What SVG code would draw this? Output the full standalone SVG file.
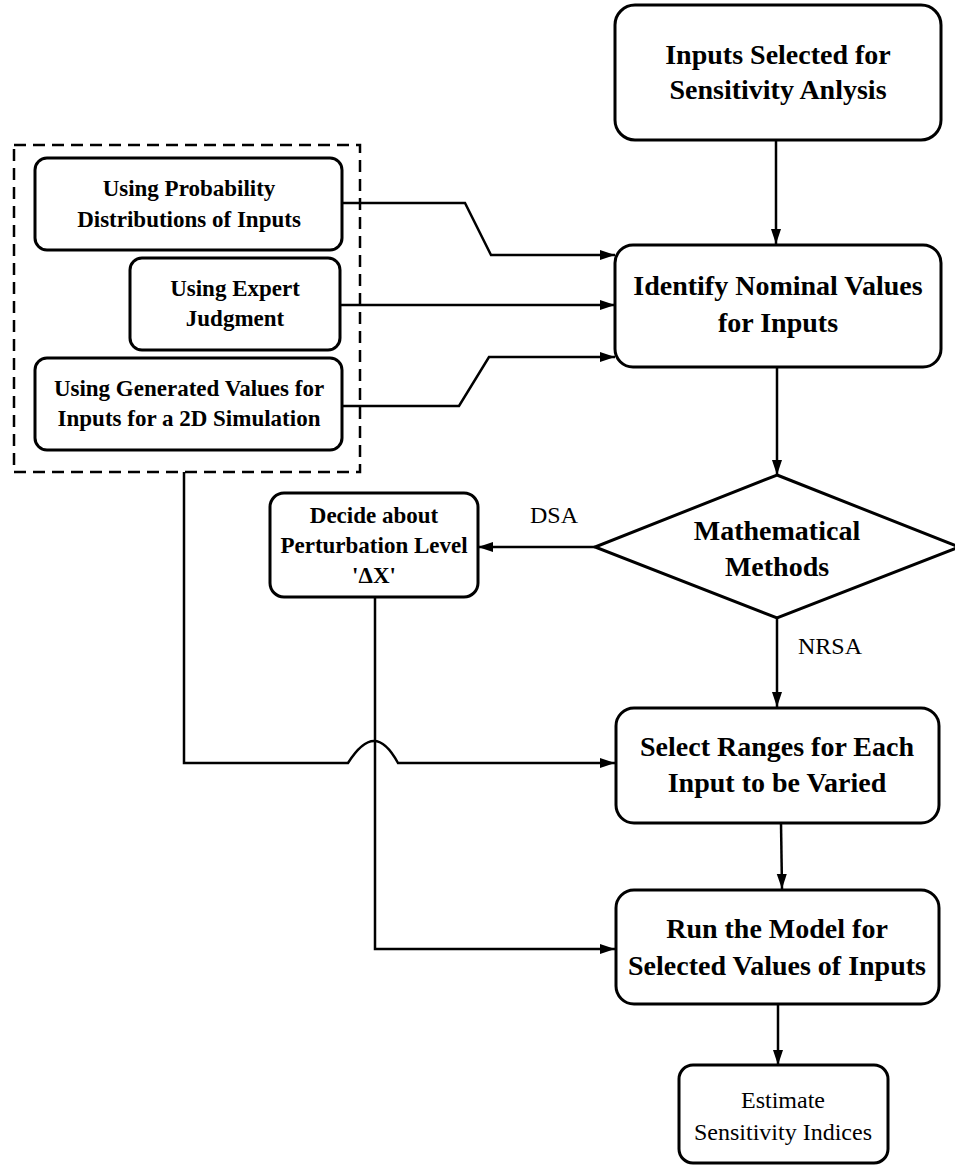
<svg xmlns="http://www.w3.org/2000/svg" width="955" height="1168" viewBox="0 0 955 1168">
  <style>
    .box { fill: #fff; stroke: #000; stroke-width: 3; }
    .dash { fill: none; stroke: #000; stroke-width: 2.5; stroke-dasharray: 12 7; }
    .edge { fill: none; stroke: #000; stroke-width: 2.5; }
    .big { font-family: "Liberation Serif", "Times New Roman", serif; font-size: 28px; font-weight: bold; text-anchor: middle; fill: #000; }
    .small { font-family: "Liberation Serif", "Times New Roman", serif; font-size: 23px; font-weight: bold; text-anchor: middle; fill: #000; }
    .plain { font-family: "Liberation Serif", "Times New Roman", serif; font-size: 24px; text-anchor: middle; fill: #000; }
  </style>
  <defs>
    <marker id="arrow" markerUnits="userSpaceOnUse" markerWidth="16" markerHeight="11" refX="15" refY="5" orient="auto">
      <path d="M0,0 L15,5 L0,10 z" fill="#000"/>
    </marker>
  </defs>

  <rect width="955" height="1168" fill="#fff"/>

  <!-- grouping frame around the three sources of nominal values -->
  <rect class="dash" x="14" y="145" width="346" height="327"/>

  <g id="connectors">
    <line class="edge" x1="776" y1="140" x2="776" y2="244" marker-end="url(#arrow)"/>
    <polyline class="edge" points="342,203 465,203 491,255 615,255" marker-end="url(#arrow)"/>
    <line class="edge" x1="340" y1="305" x2="615" y2="305" marker-end="url(#arrow)"/>
    <polyline class="edge" points="342,406 459,406 489,357 615,357" marker-end="url(#arrow)"/>
    <line class="edge" x1="777" y1="367" x2="777" y2="475" marker-end="url(#arrow)"/>
    <line class="edge" x1="595" y1="547" x2="478" y2="547" marker-end="url(#arrow)"/>
    <line class="edge" x1="777" y1="618" x2="777" y2="707" marker-end="url(#arrow)"/>
    <!-- line from the frame hops over the perturbation line -->
    <path class="edge" d="M184,472 V763 H348 Q362,741 374,741 Q386,741 398,763 H615" marker-end="url(#arrow)"/>
    <polyline class="edge" points="375,597 375,949 615,949" marker-end="url(#arrow)"/>
    <line class="edge" x1="781" y1="823" x2="782" y2="889" marker-end="url(#arrow)"/>
    <line class="edge" x1="778" y1="1004" x2="778" y2="1065" marker-end="url(#arrow)"/>
    <text class="plain" x="554" y="523">DSA</text>
    <text class="plain" x="830" y="654">NRSA</text>
  </g>

  <g id="inputs-selected">
    <rect class="box" x="615" y="5" width="326" height="135" rx="20"/>
    <text class="big" x="778" y="64">Inputs Selected for</text>
    <text class="big" x="778" y="99">Sensitivity Anlysis</text>
  </g>

  <g id="probability-distributions">
    <rect class="box" x="35" y="158" width="307" height="92" rx="12"/>
    <text class="small" x="189" y="196">Using Probability</text>
    <text class="small" x="189" y="227">Distributions of Inputs</text>
  </g>

  <g id="expert-judgment">
    <rect class="box" x="130" y="258" width="210" height="92" rx="12"/>
    <text class="small" x="235" y="296">Using Expert</text>
    <text class="small" x="235" y="326">Judgment</text>
  </g>

  <g id="generated-values">
    <rect class="box" x="35" y="358" width="307" height="92" rx="12"/>
    <text class="small" x="189" y="396">Using Generated Values for</text>
    <text class="small" x="189" y="426">Inputs for a 2D Simulation</text>
  </g>

  <g id="identify-nominal">
    <rect class="box" x="615" y="245" width="326" height="122" rx="18"/>
    <text class="big" x="778" y="295">Identify Nominal Values</text>
    <text class="big" x="778" y="332">for Inputs</text>
  </g>

  <g id="mathematical-methods">
    <polygon class="box" points="777,475 959,547 777,618 595,547"/>
    <text class="big" x="777" y="540">Mathematical</text>
    <text class="big" x="777" y="576">Methods</text>
  </g>

  <g id="perturbation-level">
    <rect class="box" x="270" y="493" width="208" height="104" rx="14"/>
    <text class="small" x="374" y="523">Decide about</text>
    <text class="small" x="374" y="553">Perturbation Level</text>
    <text class="small" x="374" y="583">'ΔX'</text>
  </g>

  <g id="select-ranges">
    <rect class="box" x="616" y="708" width="323" height="115" rx="18"/>
    <text class="big" x="777" y="756">Select Ranges for Each</text>
    <text class="big" x="777" y="792">Input to be Varied</text>
  </g>

  <g id="run-model">
    <rect class="box" x="616" y="890" width="323" height="114" rx="18"/>
    <text class="big" x="777" y="938">Run the Model for</text>
    <text class="big" x="777" y="975">Selected Values of Inputs</text>
  </g>

  <g id="estimate-indices">
    <rect class="box" x="679" y="1065" width="209" height="98" rx="14"/>
    <text class="plain" x="783" y="1108">Estimate</text>
    <text class="plain" x="783" y="1140">Sensitivity Indices</text>
  </g>
</svg>
